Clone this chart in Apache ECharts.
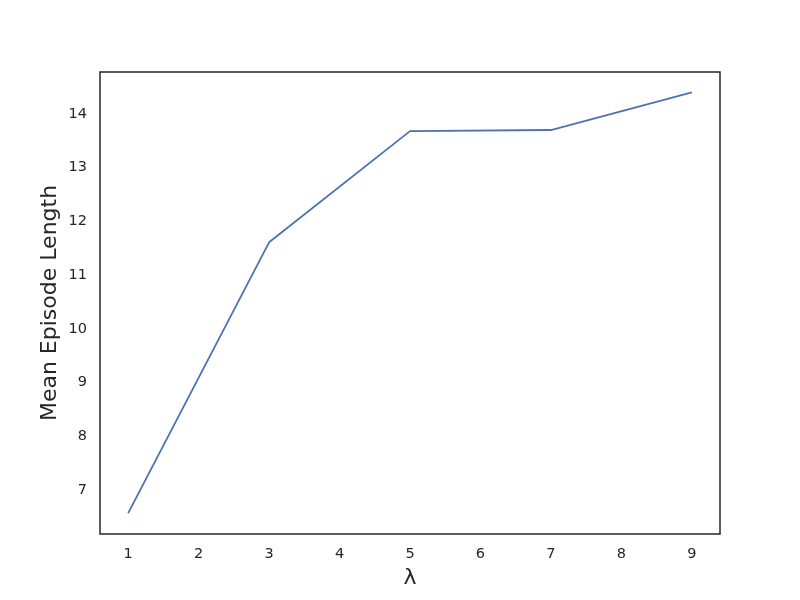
<!DOCTYPE html>
<html>
<head>
<meta charset="utf-8">
<script src="https://cdn.jsdelivr.net/npm/echarts@6/dist/echarts.min.js"></script>
<style>html,body{margin:0;padding:0;background:#fff}#c{width:800px;height:600px}</style>
</head>
<body>
<div id="c"></div>
<script>
var lambdas = [1, 3, 5, 7, 9];
var meanEpisodeLength = [6.57, 11.61, 13.68, 13.70, 14.40];
var xTicks = [1, 2, 3, 4, 5, 6, 7, 8, 9];
var yTicks = [7, 8, 9, 10, 11, 12, 13, 14];

var chart = echarts.init(document.getElementById('c'), null, {renderer: 'canvas'});
var font = 'DejaVu Sans';
chart.setOption({
  animation: false,
  backgroundColor: '#ffffff',
  grid: {left: 100, right: 80, top: 72, bottom: 66, show: true, borderColor: '#262626', borderWidth: 1.5, backgroundColor: 'transparent'},
  xAxis: {
    type: 'value', min: 0.6, max: 9.4,
    name: 'λ', nameLocation: 'middle', nameGap: 32,
    nameTextStyle: {fontFamily: font, fontSize: 22, color: '#262626'},
    axisLine: {show: false}, axisTick: {show: false}, splitLine: {show: false},
    axisLabel: {customValues: xTicks, fontFamily: font, fontSize: 14.5, color: '#262626', margin: 13,
      formatter: function(v){return String(v);}}
  },
  yAxis: {
    type: 'value', min: 6.18, max: 14.78,
    name: 'Mean Episode Length', nameLocation: 'middle', nameGap: 39, nameMoveOverlap: false,
    nameTextStyle: {fontFamily: font, fontSize: 22, color: '#262626'},
    axisLine: {show: false}, axisTick: {show: false}, splitLine: {show: false},
    axisLabel: {customValues: yTicks, fontFamily: font, fontSize: 14.5, color: '#262626', margin: 13,
      formatter: function(v){return String(v);}}
  },
  series: [{
    type: 'line',
    data: lambdas.map(function(x, i){return [x, meanEpisodeLength[i]];}),
    showSymbol: false,
    lineStyle: {color: '#4c72b0', width: 1.8},
    itemStyle: {color: '#4c72b0'}
  }]
});
</script>
</body>
</html>
